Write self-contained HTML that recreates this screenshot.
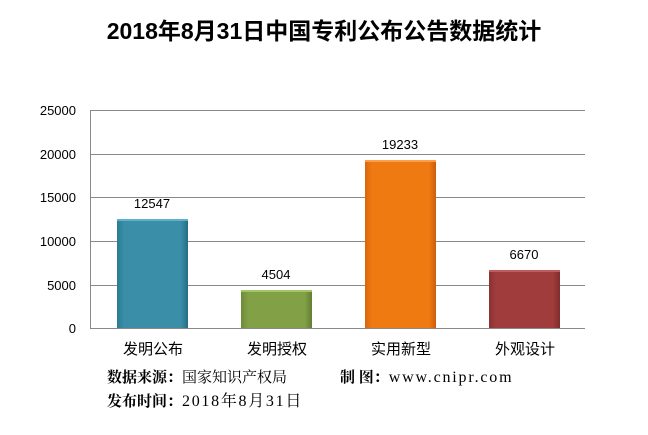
<!DOCTYPE html>
<html><head><meta charset="utf-8"><style>
body{margin:0;width:648px;height:430px;background:#fff;overflow:hidden;font-family:"Liberation Sans","Noto Sans CJK SC",sans-serif}
</style></head><body>
<svg width="648" height="430" xmlns="http://www.w3.org/2000/svg" font-family="Liberation Sans, Noto Sans CJK SC, sans-serif">
<defs>
<linearGradient id="b" x1="0" x2="1"><stop offset="0" stop-color="#2a7a92"/><stop offset="0.1" stop-color="#3a8ea8"/><stop offset="0.9" stop-color="#3a8ea8"/><stop offset="1" stop-color="#246d82"/></linearGradient>
<linearGradient id="g" x1="0" x2="1"><stop offset="0" stop-color="#6f8a3a"/><stop offset="0.1" stop-color="#82a046"/><stop offset="0.9" stop-color="#82a046"/><stop offset="1" stop-color="#637d33"/></linearGradient>
<linearGradient id="o" x1="0" x2="1"><stop offset="0" stop-color="#d9660c"/><stop offset="0.1" stop-color="#f07a12"/><stop offset="0.9" stop-color="#f07a12"/><stop offset="1" stop-color="#cc5e0a"/></linearGradient>
<linearGradient id="r" x1="0" x2="1"><stop offset="0" stop-color="#8a3232"/><stop offset="0.1" stop-color="#a03c3c"/><stop offset="0.9" stop-color="#a03c3c"/><stop offset="1" stop-color="#7f2d2d"/></linearGradient>
</defs>
<text x="324" y="39" text-anchor="middle" font-size="23" font-weight="bold" fill="#000">2018年8月31日中国专利公布公告数据统计</text>
<g stroke="#888" stroke-width="1">
<line x1="90" y1="110.5" x2="585" y2="110.5"/>
<line x1="90" y1="154.5" x2="585" y2="154.5"/>
<line x1="90" y1="197.5" x2="585" y2="197.5"/>
<line x1="90" y1="241.5" x2="585" y2="241.5"/>
<line x1="90" y1="285.5" x2="585" y2="285.5"/>
<line x1="90" y1="328.5" x2="585" y2="328.5"/>
<line x1="90.5" y1="110" x2="90.5" y2="329"/>
</g>
<g font-size="13" text-anchor="end" fill="#000">
<text x="76" y="115">25000</text><text x="76" y="159">20000</text><text x="76" y="202">15000</text>
<text x="76" y="246">10000</text><text x="76" y="290">5000</text><text x="76" y="333">0</text>
</g>
<rect x="117" y="219" width="71" height="109" fill="url(#b)"/><rect x="117" y="219" width="71" height="2" fill="#5fb0cc"/>
<rect x="241" y="290" width="71" height="38" fill="url(#g)"/><rect x="241" y="290" width="71" height="2" fill="#a4c46a"/>
<rect x="365" y="160" width="71" height="168" fill="url(#o)"/><rect x="365" y="160" width="71" height="2" fill="#ff9e48"/>
<rect x="489" y="270" width="71" height="58" fill="url(#r)"/><rect x="489" y="270" width="71" height="2" fill="#c05c5c"/>
<g font-size="13" text-anchor="middle" fill="#000">
<text x="152" y="208">12547</text><text x="276" y="279">4504</text><text x="400" y="149">19233</text><text x="524" y="259">6670</text>
</g>
<g font-size="15" text-anchor="middle" fill="#000">
<text x="153" y="354">发明公布</text><text x="277" y="354">发明授权</text><text x="401" y="354">实用新型</text><text x="525" y="354">外观设计</text>
</g>
<g font-size="15" font-weight="bold" fill="#000" font-family="Liberation Serif, Noto Serif CJK SC, serif">
<text x="107" y="382">数据来源：<tspan font-weight="normal">国家知识产权局</tspan></text>
<text x="340" y="382">制 图：<tspan font-weight="normal" font-size="16" letter-spacing="1.8">www.cnipr.com</tspan></text>
<text x="107" y="406">发布时间：<tspan font-weight="normal" font-size="16" letter-spacing="1.7">2018年8月31日</tspan></text>
</g>
</svg>
</body></html>
